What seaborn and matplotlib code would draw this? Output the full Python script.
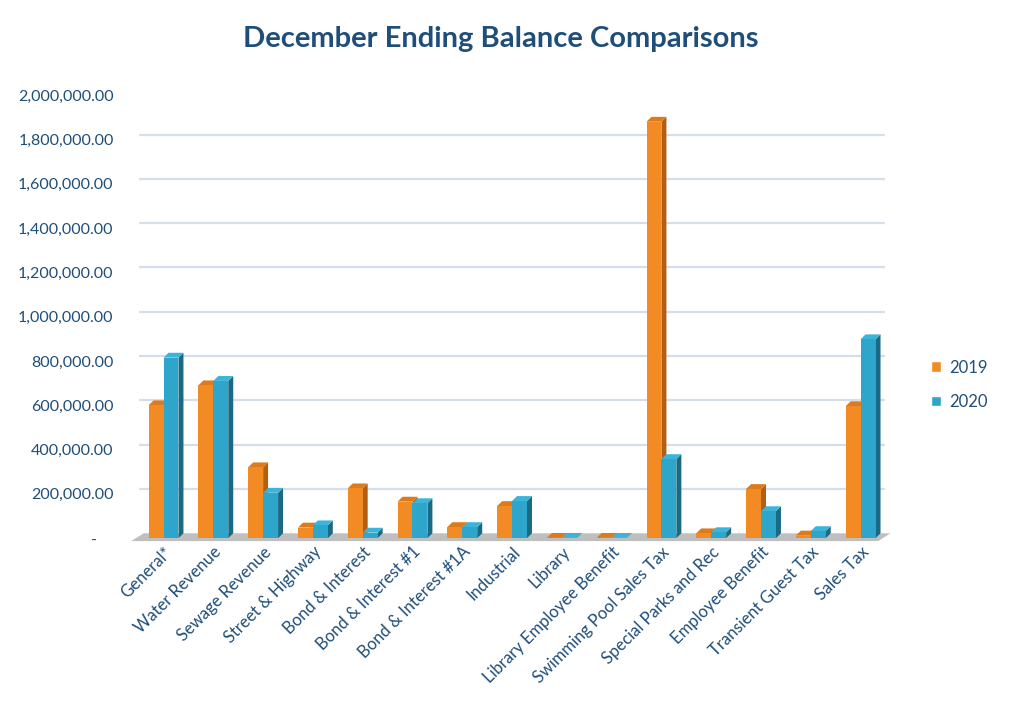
import matplotlib
matplotlib.use("Agg")
import matplotlib.pyplot as plt
import matplotlib.ticker as mticker
from matplotlib.patches import Polygon, Patch
import seaborn as sns
import pandas as pd

# data
funds = [
    "General*", "Water Revenue", "Sewage Revenue", "Street & Highway",
    "Bond & Interest", "Bond & Interest #1", "Bond & Interest #1A",
    "Industrial", "Library", "Library Employee Benefit",
    "Swimming Pool Sales Tax", "Special Parks and Rec", "Employee Benefit",
    "Transient Guest Tax", "Sales Tax",
]
bal_2019 = [600000, 690000, 320000, 48000, 225000, 165000, 50000,
            145000, 1500, 1500, 1880000, 22000, 222000, 12000, 596000]
bal_2020 = [815000, 710000, 205000, 58000, 25000, 158000, 50000,
            168000, 1500, 1500, 357000, 27000, 122000, 32000, 898000]
years = ["2019", "2020"]

df = pd.DataFrame({
    "Fund": funds * 2,
    "Balance": bal_2019 + bal_2020,
    "Year": [years[0]] * len(funds) + [years[1]] * len(funds),
})

text_col = "#1F4E79"
front = {"2019": "#F38B24", "2020": "#2EA6CC"}
side = {"2019": "#B35E12", "2020": "#1B6A84"}
top = {"2019": "#DC7A1C", "2020": "#3AB4D8"}

sns.set_theme(style="white")
plt.rcParams["font.family"] = ["Lato", "DejaVu Sans"]

fig = plt.figure(figsize=(10.12, 7.1), dpi=100)
ax = fig.add_axes([0.137, 0.242, 0.738, 0.624])

sns.barplot(data=df, x="Fund", y="Balance", hue="Year", order=funds,
            hue_order=years, palette=front, width=0.6, gap=0,
            saturation=1, linewidth=0, ax=ax, zorder=3, legend=False)

ax.set_xlim(-0.5, len(funds) - 0.5)
ax.set_ylim(0, 2000000)

# faux 3d depth
dx = 0.1
dy = 22000
for i, yr in enumerate(years):
    for p in ax.containers[i]:
        x0 = p.get_x()
        w = p.get_width()
        h = p.get_height()
        ax.add_patch(Polygon([(x0 + w, 0), (x0 + w + dx, dy),
                              (x0 + w + dx, h + dy), (x0 + w, h)],
                             closed=True, facecolor=side[yr], edgecolor="none",
                             zorder=2.5))
        ax.add_patch(Polygon([(x0, h), (x0 + dx, h + dy),
                              (x0 + w + dx, h + dy), (x0 + w, h)],
                             closed=True, facecolor=top[yr], edgecolor="none",
                             zorder=2.5))

# floor
x_lo, x_hi = ax.get_xlim()
ax.add_patch(Polygon([(x_lo - 0.15, -dy * 0.6), (x_hi - 0.15, -dy * 0.6),
                      (x_hi + 0.1, dy), (x_lo + 0.1, dy)],
                     closed=True, facecolor="#BFBFBF", edgecolor="none",
                     zorder=1, clip_on=False))

# gridlines
for v in range(200000, 2000001, 200000):
    ax.axhline(v + dy, color="#D6DEEC", lw=1.6, zorder=0)

for s in ax.spines.values():
    s.set_visible(False)

ax.yaxis.set_major_locator(mticker.MultipleLocator(200000))
ax.yaxis.set_major_formatter(
    mticker.FuncFormatter(lambda v, pos: "-    " if v == 0 else f"{v:,.2f}"))
ax.tick_params(axis="y", length=0, pad=18, labelsize=11.5, labelcolor=text_col)
ax.tick_params(axis="x", length=0, pad=4, labelsize=12, labelcolor=text_col)
plt.setp(ax.get_xticklabels(), rotation=45, ha="right", rotation_mode="anchor")
ax.set_xlabel("")
ax.set_ylabel("")

fig.text(0.495, 0.945, "December Ending Balance Comparisons", ha="center",
         va="center", fontsize=21, fontweight="bold", color=text_col)

# legend
handles = [Patch(facecolor=front[y], label=y) for y in years]
fig.legend(handles=handles, loc="center left", bbox_to_anchor=(0.905, 0.458),
           frameon=False, fontsize=12, labelcolor=text_col, handlelength=0.6,
           handleheight=0.6, handletextpad=0.5, labelspacing=1.1)

fig.savefig("out.png", dpi=100)
